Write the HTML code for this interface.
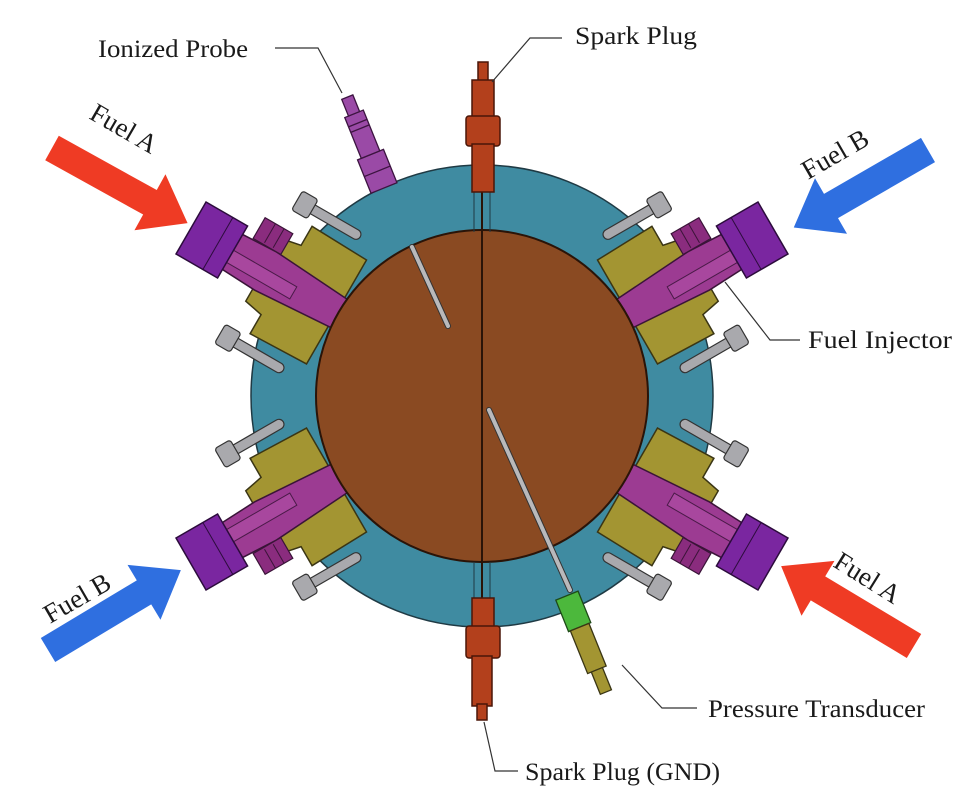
<!DOCTYPE html>
<html><head><meta charset="utf-8"><style>
html,body{margin:0;padding:0;background:#fff;}
svg{display:block;}
text{font-family:"Liberation Serif",serif;fill:#1a1a1a;}
</style></head><body>
<svg width="976" height="799" viewBox="0 0 976 799" xmlns="http://www.w3.org/2000/svg">
<defs>
<g id="inj">
  <polygon points="168,-60 232,-62 232,-40 252,-36 252,36 232,40 232,62 168,60" fill="#a39532" stroke="#3a3514" stroke-width="1.5"/>
  <rect x="232" y="-8" width="22" height="16" fill="#a39532"/>
  <polygon points="160,-16 250,-22 292,-20 292,20 250,22 160,16" fill="#9c3b92" stroke="#3a1438" stroke-width="1.5"/>
  <rect x="215" y="-12" width="80" height="14" fill="#a8479e" stroke="#4a1a48" stroke-width="1"/>
  <rect x="245" y="22" width="32" height="24" fill="#8a2c7e" stroke="#3a1438" stroke-width="1.2"/>
  <line x1="255" y1="24" x2="255" y2="46" stroke="#3a1438"/><line x1="265" y1="24" x2="265" y2="46" stroke="#3a1438"/>
  <rect x="288" y="-30" width="48" height="60" fill="#7a26a0" stroke="#2c0c3c" stroke-width="1.5"/>
  <line x1="305" y1="-30" x2="305" y2="30" stroke="#2c0c3c"/>
  <g fill="#a9a9ad" stroke="#333" stroke-width="1.2">
    <rect x="185" y="-82" width="62" height="10" rx="5"/>
    <rect x="240" y="-88" width="18" height="22" rx="3"/>
    <rect x="185" y="72" width="62" height="10" rx="5"/>
    <rect x="240" y="66" width="18" height="22" rx="3"/>
  </g>
</g>
<polygon id="arr" points="0,-14 112,-14 112,-32 155,0 112,32 112,14 0,14"/>
</defs>

<circle cx="482" cy="396" r="231" fill="#3f8ba1" stroke="#1f3a44" stroke-width="1.5"/>

<g transform="translate(482,396) rotate(-150)"><use href="#inj"/></g>
<g transform="translate(482,396) rotate(-30) scale(1,-1)"><use href="#inj"/></g>
<g transform="translate(482,396) rotate(150) scale(1,-1)"><use href="#inj"/></g>
<g transform="translate(482,396) rotate(30)"><use href="#inj"/></g>

<circle cx="482" cy="396" r="166" fill="#8a4a22" stroke="#2a1408" stroke-width="2"/>
<line x1="482" y1="170" x2="482" y2="628" stroke="#2a1408" stroke-width="2"/>
<line x1="474" y1="170" x2="474" y2="232" stroke="#1f3a44" stroke-width="1"/>
<line x1="490" y1="170" x2="490" y2="232" stroke="#1f3a44" stroke-width="1"/>
<line x1="474" y1="562" x2="474" y2="625" stroke="#1f3a44" stroke-width="1"/>
<line x1="490" y1="562" x2="490" y2="625" stroke="#1f3a44" stroke-width="1"/>
<line x1="412" y1="247" x2="448" y2="326" stroke="#333" stroke-width="6" stroke-linecap="round"/>
<line x1="412" y1="247" x2="448" y2="326" stroke="#b9b9bb" stroke-width="4" stroke-linecap="round"/>
<line x1="489" y1="410" x2="570" y2="590" stroke="#333" stroke-width="6" stroke-linecap="round"/>
<line x1="489" y1="410" x2="570" y2="590" stroke="#b9b9bb" stroke-width="4" stroke-linecap="round"/>

<g fill="#b3401c" stroke="#4a1608" stroke-width="1.5">
  <rect x="478" y="62" width="10" height="20"/>
  <rect x="472" y="80" width="22" height="38"/>
  <rect x="466" y="116" width="34" height="30" rx="3"/>
  <rect x="472" y="144" width="22" height="48"/>
</g>
<g fill="#b3401c" stroke="#4a1608" stroke-width="1.5">
  <rect x="472" y="598" width="22" height="30"/>
  <rect x="466" y="626" width="34" height="32" rx="3"/>
  <rect x="472" y="656" width="20" height="50"/>
  <rect x="477" y="704" width="10" height="16"/>
</g>
<g transform="translate(384,188) rotate(-22)" fill="#9a4aa6" stroke="#3c1440" stroke-width="1.3">
  <rect x="-14" y="-36" width="28" height="36"/>
  <rect x="-10" y="-80" width="20" height="44"/>
  <rect x="-6" y="-98" width="12" height="18"/>
  <line x1="-10" y1="-70" x2="10" y2="-70"/><line x1="-10" y1="-64" x2="10" y2="-64"/>
  <line x1="-14" y1="-18" x2="14" y2="-18"/>
</g>
<g transform="translate(566,596) rotate(-22)">
  <rect x="-11" y="0" width="24" height="34" fill="#4cb83c" stroke="#1e4a18" stroke-width="1.3"/>
  <rect x="-9" y="34" width="20" height="46" fill="#a39532" stroke="#3a3514" stroke-width="1.3"/>
  <rect x="-5" y="80" width="12" height="24" fill="#a39532" stroke="#3a3514" stroke-width="1.3"/>
</g>

<use href="#arr" fill="#ef3b24" transform="translate(52,148) rotate(29)"/>
<use href="#arr" fill="#2f6fe0" transform="translate(928,150) rotate(150)"/>
<use href="#arr" fill="#2f6fe0" transform="translate(48,650) rotate(-31)"/>
<use href="#arr" fill="#ef3b24" transform="translate(914,646) rotate(211)"/>

<text font-size="27" transform="translate(88,118) rotate(30)">Fuel A</text>
<text font-size="27" transform="translate(808,180) rotate(-30)">Fuel B</text>
<text font-size="27" transform="translate(50,624) rotate(-30)">Fuel B</text>
<text font-size="27" transform="translate(832,566) rotate(32)">Fuel A</text>

<g fill="none" stroke="#333" stroke-width="1.2">
  <polyline points="275,48 318,48 342,93"/>
  <polyline points="562,38 530,38 492,82"/>
  <polyline points="800,340 770,340 725,282"/>
  <polyline points="697,708 662,708 622,665"/>
  <polyline points="518,771 495,771 484,722"/>
</g>
<text font-size="25" x="98" y="57" textLength="150" lengthAdjust="spacingAndGlyphs">Ionized Probe</text>
<text font-size="25" x="575" y="44" textLength="122" lengthAdjust="spacingAndGlyphs">Spark Plug</text>
<text font-size="25" x="808" y="348" textLength="144" lengthAdjust="spacingAndGlyphs">Fuel Injector</text>
<text font-size="25" x="708" y="717" textLength="217" lengthAdjust="spacingAndGlyphs">Pressure Transducer</text>
<text font-size="25" x="525" y="780" textLength="195" lengthAdjust="spacingAndGlyphs">Spark Plug (GND)</text>
</svg>
</body></html>
